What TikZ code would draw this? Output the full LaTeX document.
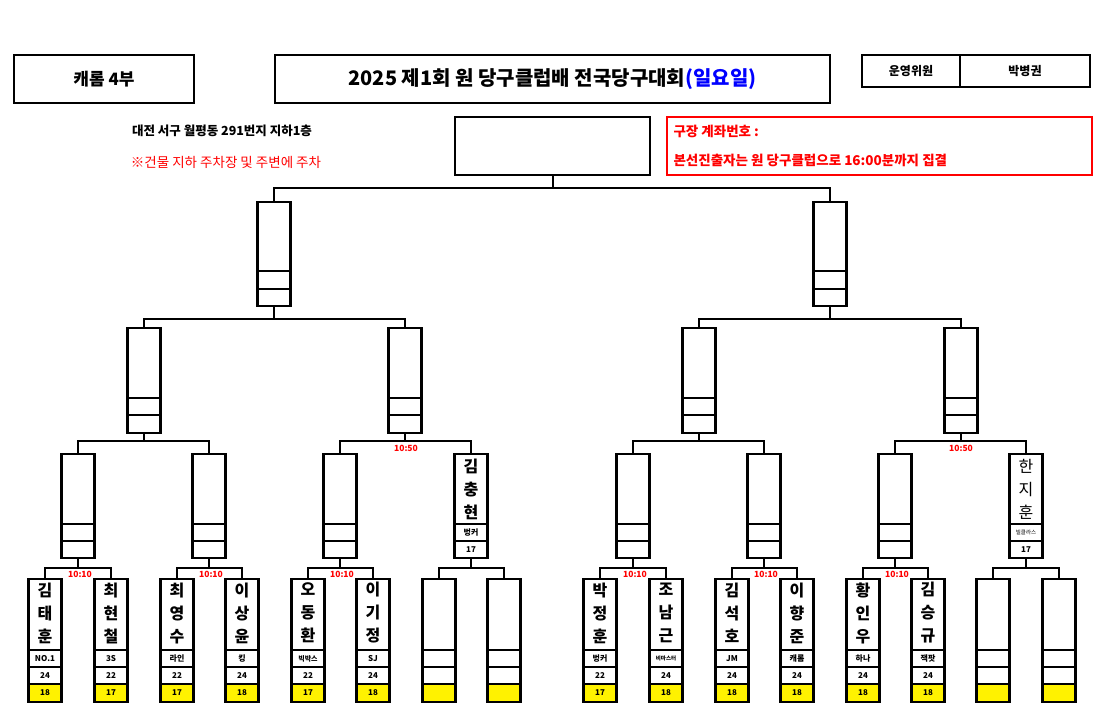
\documentclass[tikz,border=0pt]{standalone}
\usepackage{fontspec}
\setmainfont{Noto Sans CJK KR}
\begin{document}
\begin{tikzpicture}[x=1pt,y=-1pt,
 bx/.style={draw,line width=2.2pt,rectangle,inner sep=0,minimum width=33pt},
 ln/.style={line width=2pt},
 tm/.style={text=red,font=\fontsize{8.5}{8.5}\selectfont\bfseries,inner sep=0},
 nm/.style={font=\fontsize{16}{23}\selectfont\bfseries,align=center,inner sep=0},
 sm/.style={font=\fontsize{8}{8}\selectfont\bfseries,inner sep=0}]
\useasboundingbox (0,0) rectangle (1111,728);
\fill[white] (0,0) rectangle (1111,728);
% header
\node[draw,line width=1.8pt,minimum width=180pt,minimum height=48pt,font=\bfseries\fontsize{17}{17}\selectfont] (div) at (104,79) {캐롬 4부};
\node[draw,line width=2.8pt,minimum width=555pt,minimum height=48pt,font=\bfseries\fontsize{20}{20}\selectfont] (title) at (552.5,79) {2025 제1회 원 당구클럽배 전국당구대회\textcolor{blue}{(일요일)}};
\node[draw,line width=1.8pt,minimum width=98pt,minimum height=32pt,font=\bfseries\fontsize{12}{12}\selectfont] (r1) at (911,71) {운영위원};
\node[draw,line width=1.8pt,minimum width=130pt,minimum height=32pt,font=\bfseries\fontsize{12}{12}\selectfont] (r2) at (1025,71) {박병권};
\node[font=\bfseries\fontsize{12.5}{12.5}\selectfont] (addr) at (222,131) {대전 서구 월평동 291번지 지하1층};
\node[text=red,font=\fontsize{13.5}{13.5}\selectfont] (park) at (226,162) {※건물 지하 주차장 및 주변에 주차};
\draw[red,line width=2.8pt] (667,117) rectangle (1092,175);
\node[text=red,anchor=west,font=\bfseries\fontsize{13.5}{13.5}\selectfont] (acc) at (670,131) {구장 계좌번호 :};
\node[text=red,anchor=west,font=\bfseries\fontsize{13.5}{13.5}\selectfont] (gath) at (670,160) {본선진출자는 원 당구클럽으로 16:00분까지 집결};
% final
\node[bx,minimum width=195pt,minimum height=58pt] (F) at (552.5,146) {};
% semis
\foreach \i/\x in {1/274,2/830}{
 \node[bx,minimum height=104pt] (S\i) at (\x,254) {};
 \draw[line width=1.6pt] (\x-16.5,271)--(\x+16.5,271) (\x-16.5,289)--(\x+16.5,289);}
% quarters
\foreach \i/\x in {1/144,2/405,3/699,4/961}{
 \node[bx,minimum height=105pt] (Q\i) at (\x,380.5) {};
 \draw[line width=1.6pt] (\x-16.5,398)--(\x+16.5,398) (\x-16.5,415)--(\x+16.5,415);}
% round of 16
\foreach \i/\x in {1/78,2/209,3/340,4/471,5/633,6/764,7/895,8/1026}{
 \node[bx,minimum height=104pt] (R\i) at (\x,506) {};
 \draw[line width=1.6pt] (\x-16.5,524)--(\x+16.5,524) (\x-16.5,541)--(\x+16.5,541);}
\node[nm] at (471,489) {김\\충\\현};
\node[sm] at (471,532.5) {벙커};
\node[sm] at (471,549.5) {17};
\node[nm,font=\fontsize{16}{23}\selectfont] at (1026,489) {한\\지\\훈};
\node[font=\fontsize{5.5}{5.5}\selectfont,inner sep=0] at (1026,532.5) {빌클라스};
\node[sm] at (1026,549.5) {17};
% players
\foreach \i/\x/\n/\c/\a/\b in {
 1/45/김\\태\\훈/NO.1/24/18, 2/111/최\\현\\철/3S/22/17,
 3/177/최\\영\\수/라인/22/17, 4/242/이\\상\\윤/킹/24/18,
 5/308/오\\동\\환/{\fontsize{7}{7}\selectfont 빅박스}/22/17, 6/373/이\\기\\정/SJ/24/18,
 7/439//{}/{}/{}, 8/504//{}/{}/{},
 9/600/박\\정\\훈/벙커/22/17, 10/666/조\\남\\근/{\fontsize{5.5}{5.5}\selectfont 비마스터}/24/18,
 11/732/김\\석\\호/JM/24/18, 12/797/이\\향\\준/캐롬/24/18,
 13/863/황\\인\\우/하나/24/18, 14/928/김\\승\\규/잭팟/24/18,
 15/993//{}/{}/{}, 16/1059//{}/{}/{}}{
 \fill[yellow] (\x-16.5,684) rectangle (\x+16.5,702);
 \node[bx,minimum height=123pt] (P\i) at (\x,640.5) {};
 \draw[line width=1.6pt] (\x-16.5,650)--(\x+16.5,650) (\x-16.5,667)--(\x+16.5,667) (\x-16.5,684)--(\x+16.5,684);
 \node[nm] at (\x,613) {\n};
 \node[sm] at (\x,658.5) {\c};
 \node[sm] at (\x,675.5) {\a};
 \node[sm] at (\x,693) {\b};}
% connectors players -> R16
\foreach \r/\a/\b in {1/1/2,2/3/4,3/5/6,4/7/8,5/9/10,6/11/12,7/13/14,8/15/16}{
 \draw[ln] (P\a.north) |- (R\r.south |- 0,568) -| (P\b.north);
 \draw[ln] (R\r.south) -- (R\r.south |- 0,568);}
\foreach \r in {1,2,3,5,6,7}{\node[tm] at ([xshift=2pt]R\r.south |- 0,574) {10:10};}
% R16 -> Q
\foreach \q/\a/\b in {1/1/2,2/3/4,3/5/6,4/7/8}{
 \draw[ln] (R\a.north) |- (Q\q.south |- 0,441) -| (R\b.north);
 \draw[ln] (Q\q.south) -- (Q\q.south |- 0,441);}
\node[tm] at (406,448) {10:50};
\node[tm] at (961,448) {10:50};
% Q -> S
\foreach \s/\a/\b in {1/1/2,2/3/4}{
 \draw[ln] (Q\a.north) |- (S\s.south |- 0,319) -| (Q\b.north);
 \draw[ln] (S\s.south) -- (S\s.south |- 0,319);}
% S -> F
\draw[ln] (S1.north) |- (F.south |- 0,188) -| (S2.north);
\draw[ln] (F.south) -- (F.south |- 0,188);
\end{tikzpicture}
\end{document}
